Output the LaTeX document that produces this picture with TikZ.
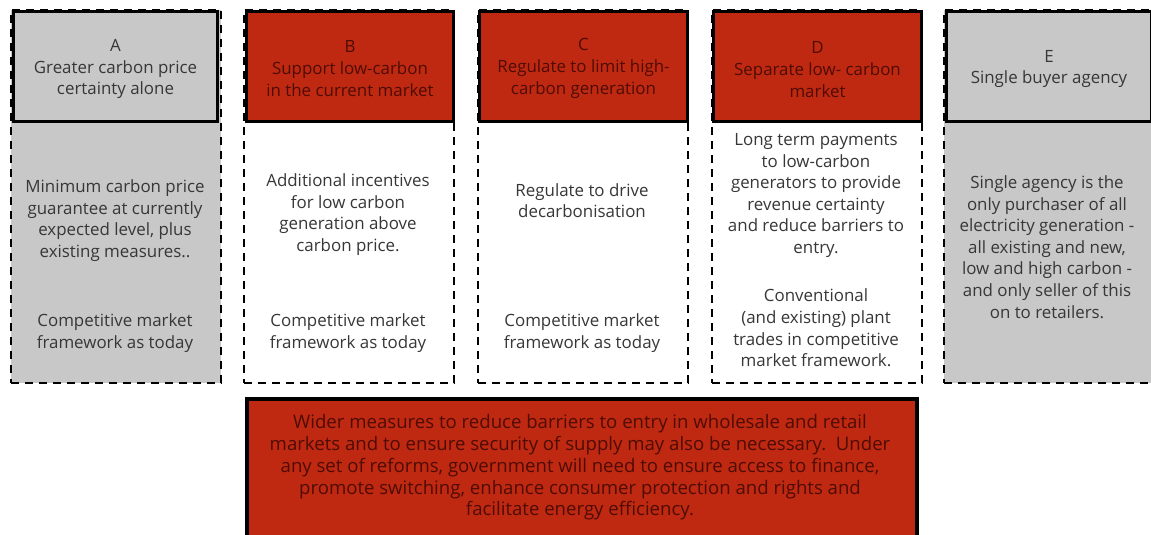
\documentclass[tikz,border=0pt]{standalone}
\usepackage{fontspec}
\setmainfont{Open Sans}
\definecolor{optred}{RGB}{192,41,17}
\definecolor{optgrey}{RGB}{200,200,200}
\definecolor{redtext}{RGB}{78,12,4}
\definecolor{bodytext}{RGB}{55,55,55}
\tikzset{
  colbox/.style={draw=black, line width=2.4pt, dash pattern=on 8pt off 6pt,
    minimum width=210pt, minimum height=373pt, inner sep=0pt, anchor=north west},
  headbox/.style={draw=black, line width=3pt, minimum height=110pt,
    inner sep=0pt, anchor=north west},
  txt/.style={align=center, font=\fontsize{16.9}{21.6}\selectfont, text=bodytext, inner sep=0pt},
  redtxt/.style={txt, text=redtext},
  notetxt/.style={redtxt, font=\fontsize{18.6}{21.8}\selectfont},
  notebox/.style={draw=black, line width=3.5pt, fill=optred, inner sep=0pt,
    minimum width=670pt, minimum height=150pt, anchor=north west},
}
\begin{document}
\begin{tikzpicture}[x=1pt,y=1pt]
\useasboundingbox (0,0) rectangle (1151,-535);
\clip (0,0) rectangle (1151,-535);
\fill[white] (0,0) rectangle (1151,-535);

% option columns (dashed outlines)
\node[colbox, fill=optgrey] (colA) at (10,-9) {};
\node[colbox] (colB) at (243,-9) {};
\node[colbox] (colC) at (477,-9) {};
\node[colbox] (colD) at (711,-9) {};
\node[colbox, fill=optgrey] (colE) at (943,-9) {};

% headers
\node[headbox, fill=optgrey, minimum width=204pt] (hA) at (12,-10) {};
\node[headbox, fill=optred, minimum width=207pt] (hB) at (245,-10) {};
\node[headbox, fill=optred, minimum width=208pt] (hC) at (478,-10) {};
\node[headbox, fill=optred, minimum width=208pt] (hD) at (712,-10) {};
\node[headbox, fill=optgrey, minimum width=205pt] (hE) at (945,-10) {};

\node[txt] (tA) at ([yshift=-2.5pt]hA.center) {A\\Greater carbon price\\certainty alone};
\node[redtxt] (tB) at ([yshift=-2pt]hB.center) {B\\Support low-carbon\\in the current market};
\node[redtxt] (tC) at ([yshift=-2pt]hC.center) {C\\Regulate to limit high-\\carbon generation};
\node[redtxt] (tD) at ([yshift=-3pt]hD.center) {D\\Separate low- carbon\\market};
\node[txt] (tE) at ([yshift=-2.5pt]hE.center) {E\\Single buyer agency};

% column bodies
\node[txt] (bA1) at (115,-220.5) {Minimum carbon price\\guarantee at currently\\expected level, plus\\existing measures..};
\node[txt] (bA2) at (115,-333) {Competitive market\\framework as today};
\node[txt] (bB1) at (348,-214.5) {Additional incentives\\for low carbon\\generation above\\carbon price.};
\node[txt] (bB2) at (348,-333) {Competitive market\\framework as today};
\node[txt] (bC1) at (582,-200.5) {Regulate to drive\\decarbonisation};
\node[txt] (bC2) at (582,-333) {Competitive market\\framework as today};
\node[txt] (bD1) at (816,-195.5) {Long term payments\\to low-carbon\\generators to provide\\revenue certainty\\and reduce barriers to\\entry.};
\node[txt] (bD2) at (816,-328) {Conventional\\(and existing) plant\\trades in competitive\\market framework.};
\node[txt] (bE1) at (1047,-247) {Single agency is the\\only purchaser of all\\electricity generation -\\all existing and new,\\low and high carbon -\\and only seller of this\\on to retailers.};

% common measures
\node[notebox] (note) at (245,-397) {};
\node[notetxt] (tnote) at (580,-467.5) {Wider measures to reduce barriers to entry in wholesale and retail\\markets and to ensure security of supply may also be necessary.\ \ Under\\any set of reforms, government will need to ensure access to finance,\\promote switching, enhance consumer protection and rights and\\facilitate energy efficiency.};
\end{tikzpicture}
\end{document}
